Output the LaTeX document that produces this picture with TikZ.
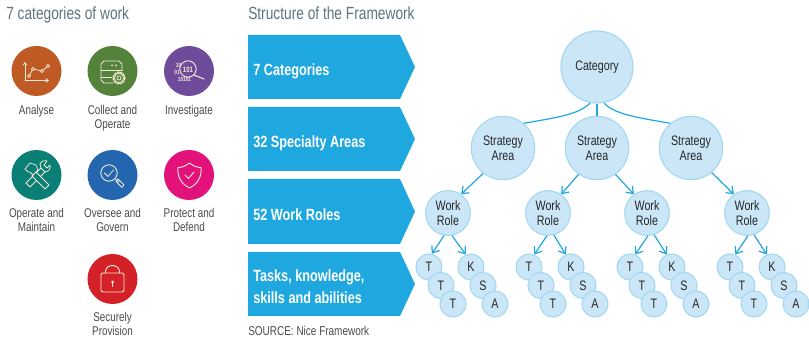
\documentclass[tikz,border=0pt]{standalone}
\usepackage{fontspec}
\setmainfont[FakeStretch=0.78]{Liberation Sans}
\usetikzlibrary{arrows.meta}
\definecolor{blu}{HTML}{1FA7E0}
\definecolor{cfill}{HTML}{CBE7F7}
\definecolor{cedge}{HTML}{A6D9F1}
\definecolor{ttl}{HTML}{5F7380}
\definecolor{lab}{HTML}{4A4A4A}
\definecolor{ico}{HTML}{F3EBD8}
\definecolor{cana}{HTML}{C05A24}
\definecolor{ccol}{HTML}{55823A}
\definecolor{cinv}{HTML}{6F4C9B}
\definecolor{cope}{HTML}{0A7F75}
\definecolor{cove}{HTML}{2466B0}
\definecolor{cpro}{HTML}{E2127A}
\definecolor{csec}{HTML}{D42027}
\tikzset{
 x=0.75pt,y=-0.75pt,
 bub/.style={circle,draw=cedge,line width=0.9pt,fill=cfill,inner sep=0pt,align=center,text=black!85,font=\fontsize{10.3}{11}\selectfont},
 catb/.style={bub,minimum size=54pt},
 area/.style={bub,minimum size=47.5pt},
 role/.style={bub,minimum size=33.5pt},
 leaf/.style={bub,minimum size=19.5pt},
 lnk/.style={draw=blu,line width=0.9pt},
 arr/.style={lnk,-{Straight Barb[length=4.5pt,width=7pt,line width=0.9pt]}},
 banner/.style={fill=blu,draw=none},
 bantext/.style={text=white,anchor=west,align=left,font=\fontsize{12.2}{16.5}\selectfont\bfseries,inner sep=0pt},
 title/.style={text=ttl,anchor=base west,inner sep=0pt,font=\fontsize{13.2}{14}\selectfont},
 iconc/.style={circle,minimum size=37.5pt,inner sep=0pt,draw=none},
 catlab/.style={text=lab,align=center,inner sep=0pt,anchor=north,font=\fontsize{9.5}{10.5}\selectfont},
 ic/.style={draw=ico,line width=0.55pt,line cap=round,line join=round},
 ictext/.style={text=ico,inner sep=0pt,font=\bfseries\fontsize{4.6}{5}\selectfont},
}
\begin{document}
\begin{tikzpicture}
\useasboundingbox (0,0) rectangle (809,341);
\node[title] (t1) at (6,20) {7 categories of work};
\node[title] (t2) at (248,20) {Structure of the Framework};
% category circles
\node[iconc,fill=cana] (c1) at (36.5,71) {};
\node[iconc,fill=ccol] (c2) at (112.5,71) {};
\node[iconc,fill=cinv] (c3) at (189,71) {};
\node[iconc,fill=cope] (c4) at (36.5,175) {};
\node[iconc,fill=cove] (c5) at (112.5,175) {};
\node[iconc,fill=cpro] (c6) at (189,175) {};
\node[iconc,fill=csec] (c7) at (112.5,279) {};
% labels
\node[catlab] (l1) at (36.5,105) {Analyse};
\node[catlab] (l2) at (112.5,105) {Collect and\\Operate};
\node[catlab] (l3) at (189,105) {Investigate};
\node[catlab] (l4) at (36.5,208) {Operate and\\Maintain};
\node[catlab] (l5) at (112.5,208) {Oversee and\\Govern};
\node[catlab] (l6) at (189,208) {Protect and\\Defend};
\node[catlab] (l7) at (112.5,312) {Securely\\Provision};
% analyse icon
\draw[ic,-{Straight Barb[length=2pt,width=3pt]}] (25,80.5) -- (25,62);
\draw[ic,-{Straight Barb[length=2pt,width=3pt]}] (25,80.5) -- (49,80.5);
\draw[ic] (29,76) -- (33,69) -- (42,71) -- (48,66);
\foreach \p in {(29,76),(33,69),(42,71),(48,66)} \draw[ic,fill=cana] \p circle[radius=1.6];
% collect icon
\draw[ic] (113,83) -- (104,83) -- (101,80) -- (101,64) -- (104,61) -- (119,61) -- (122,64) -- (122,71);
\draw[ic] (101,70) -- (122,70);
\draw[ic] (101,77) -- (112,77);
\fill[ico] (112,65.5) circle[radius=1] (116,65.5) circle[radius=1];
\draw[ic,fill=ccol,line width=1.1pt,dash pattern=on 1.2pt off 1.2pt] (119,78) circle[radius=5.8];
\draw[ic] (119,78) circle[radius=4.6] (119,78) circle[radius=2];
% investigate icon
\draw[ic,line width=0.7pt] (188,69) circle[radius=8.2];
\draw[ic,line width=0.8pt] (194,75) -- (204,79);
\node[ictext,font=\bfseries\fontsize{5.8}{6}\selectfont] (i0) at (188,69.5) {101};
\node[ictext] (i1) at (178.5,65.5) {10};
\node[ictext] (i2) at (177,72) {01};
\node[ictext] (i3) at (184.5,79) {10101};
% operate icon
\draw[ic] (26,183) -- (30,187) -- (45,172) -- (41,168) -- cycle;
\draw[ic] (41,168) -- (40,164) .. controls (41,161) and (45,160) .. (47,161) -- (44,165) -- (47,168) -- (50,165) .. controls (51,168) and (49,172) .. (45,172);
\draw[ic,fill=cope] (36,172) -- (32,176) -- (45,189) -- (49,185) -- cycle;
\draw[ic,fill=cope] (25,169) -- (30,163) -- (36,165) -- (38,170) -- (33,175) -- (30,172) -- (28,172) -- cycle;
% oversee icon
\draw[ic,line width=0.7pt] (109,173) circle[radius=8.2];
\draw[ic] (104.5,173) -- (108,176.5) -- (113.5,170);
\draw[ic] (115.5,179) -- (119,182) (118,179) -- (124,185) -- (122,187.5) -- (116,181.5) -- cycle;
% protect icon
\draw[ic,line width=0.7pt] (178,167.5) .. controls (183,167.5) and (186,165.5) .. (189.5,163) .. controls (193,165.5) and (196,167.5) .. (201,167.5) .. controls (202,176) and (198,184) .. (189.5,188) .. controls (181,184) and (177,176) .. (178,167.5) -- cycle;
\draw[ic,line width=0.7pt] (185,175) -- (188.5,178.5) -- (194,172);
% secure icon
\draw[ic,line width=0.7pt,rounded corners=1.5pt] (101,273) rectangle (124,292);
\draw[ic,line width=0.7pt] (105.5,273) -- (105.5,271.5) arc[start angle=180,end angle=0,x radius=7,y radius=-6] -- (119.5,273);
\fill[ico] (112.5,282) circle[radius=1.5];
\draw[ic,line width=0.9pt] (112.5,282) -- (112.5,286.5);
% banners
\foreach \n/\a/\b in {1/35/99,2/107/171,3/179/244,4/252/316}
  \fill[banner] (248,\a) -- (400,\a) -- (415,{(\a+\b)/2}) -- (400,\b) -- (248,\b) -- cycle;
\node[bantext] (b1) at (253,71) {7 Categories};
\node[bantext] (b2) at (253,143) {32 Specialty Areas};
\node[bantext] (b3) at (253,215) {52 Work Roles};
\node[bantext] (b4) at (253,286.5) {Tasks, knowledge,\\skills and abilities};
\node[text=lab,anchor=base west,inner sep=0pt,font=\fontsize{9.6}{10.5}\selectfont] (src) at (248,336) {SOURCE: Nice Framework};
% tree
\node[catb] (cat) at (597,67) {Category};
\node[area] (s1) at (503,148) {Strategy\\Area};
\node[area] (s2) at (597,148) {Strategy\\Area};
\node[area] (s3) at (691,148) {Strategy\\Area};
\draw[lnk] (cat.259) .. controls +(-10,11) and +(35,-6) .. (s1.50);
\draw[lnk] (cat.south) -- (s2.north);
\draw[lnk] (cat.281) .. controls +(10,11) and +(-35,-6) .. (s3.130);
\foreach \n/\x/\tx/\kx/\sa/\sb/\ea/\eb in {1/448/429/471/260/280/78/113,2/548/529/571/267/285/67/113,3/647/630/672/272/288/67/113,4/747/730/772/272/288/67/113}{
  \node[role] (r\n) at (\x,213) {Work\\Role};
  \node[leaf] (t\n a) at (\tx,267) {T};
  \node[leaf] (t\n b) at ({\tx+12},285.5) {T};
  \node[leaf] (t\n c) at ({\tx+24},304) {T};
  \node[leaf] (k\n a) at (\kx,267) {K};
  \node[leaf] (k\n b) at ({\kx+12},285.5) {S};
  \node[leaf] (k\n c) at ({\kx+24},304) {A};
  \draw[arr] (r\n.\sa) -- (t\n a.\ea);
  \draw[arr] (r\n.\sb) -- (k\n a.\eb);
}
\draw[arr] (s1.232) -- (r1.55);
\draw[arr] (s2.235) -- (r2.55);
\draw[arr] (s2.305) -- (r3.125);
\draw[arr] (s3.310) -- (r4.125);
\end{tikzpicture}
\end{document}
